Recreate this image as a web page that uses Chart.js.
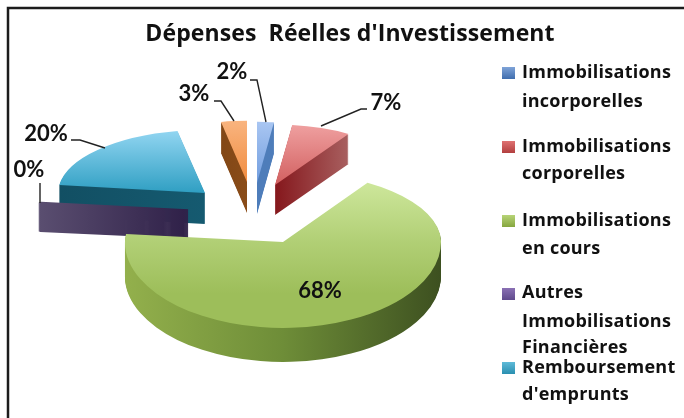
<!DOCTYPE html>
<html><head><meta charset="utf-8">
<style>html,body{margin:0;padding:0;background:#fff}#w{position:relative;width:684px;height:418px}canvas{display:block;filter:blur(0.45px)}</style>
<script src="https://cdn.jsdelivr.net/npm/chart.js@4/dist/chart.umd.min.js"></script>
</head><body><div id="w"><canvas id="c" width="684" height="418"></canvas></div>
<script>
const titleText = "Dépenses  Réelles d'Investissement";
const categories = ["Immobilisations incorporelles","Immobilisations corporelles","Immobilisations en cours","Autres Immobilisations Financières","Remboursement d'emprunts"," "];
const values = [2,7,68,0.2,20,3];

const topLight = ['#A9C6F2','#EFA0A0','#D2EBA2','#5A4E70','#93D6F2','#F9B47F'];
const topDark  = ['#6E9BDD','#D05C5C','#9DBE5A','#2F2048','#2A9CC0','#F08A3C'];
const wallA = ['#3A6AA8','#85171C','#93B04C','#5A4E70','#124F63','#5E3210'];
const wallB = ['#4E7DBA','#A85F5F','#3D5020','#2F2048','#155A70','#8A4C18'];
const legendTop = ['#7FA3D8','#DF7272','#B7D477','#8A70B4','#5FBAD8'];
const legendBot = ['#3F6DAE','#B23F3F','#86A63F','#5F4A8C','#2A8FB0'];

// explosion of each slice relative to the pie centre, and its projected size
const explodeX = [-25,-7,1,-94,-77,-35];
const explodeY = [-59,-57,0,-32,-49,-60];
const radiusK  = [0.86,0.87,1,0.94,0.93,0.88];
const tiltFar  = [0.45,0.44,0.443,0.39,0.43,0.44];
const tiltNear = [0.45,0.44,0.544,0.39,0.43,0.44];
const depth    = [31,30,34,28,31,31];

const labelPos = [[232,72],[386,103],[320,291],[29,170],[46,134],[194,94]];
const leaders = [[[250,80],[257,80],[266,122]],[[367,109],[361,109],[321,126]],null,[[40,183],[40,203]],[[71,140],[80,140],[105,148]],[[214,101],[221,101],[234,121]]];
const legendLines = [['Immobilisations','incorporelles'],['Immobilisations','corporelles'],['Immobilisations','en cours'],['Autres','Immobilisations','Financières'],['Remboursement',"d'emprunts"]];
const legendY = [73,102,147,174,221,249,293,322,348,368,395];

function gradient(ctx,x0,y0,x1,y1,a,b){const g=ctx.createLinearGradient(x0,y0,x1,y1);g.addColorStop(0,a);g.addColorStop(1,b);return g;}

function wallFill(ctx,arc,i){
  const r=arc.outerRadius;
  if(i===2){
    const g=ctx.createLinearGradient(arc.x-r,0,arc.x+r,0);
    g.addColorStop(0,'#93B04C');g.addColorStop(0.5,'#6E8D38');g.addColorStop(1,'#3D5020');
    return g;
  }
  if(i===1) return gradient(ctx,arc.x,0,arc.x+r*0.53,0,wallA[i],wallB[i]);
  if(i===3) return gradient(ctx,arc.x-r,0,arc.x,0,wallA[i],wallB[i]);
  return gradient(ctx,arc.x-r,0,arc.x,0,wallA[i],wallB[i]);
}

function drawSlice(ctx,arc,i,cx,cy){
  const r=arc.outerRadius, k=radiusK[i];
  const ax=cx+explodeX[i], ay=cy+explodeY[i];
  const base=arc.options;
  const split=tiltFar[i]!==tiltNear[i];
  const paint=(sy,part)=>{
    for(let d=depth[i];d>=0;d--){
      ctx.save();
      if(part){
        ctx.beginPath();
        if(part==='far') ctx.rect(0,0,684,ay+d); else ctx.rect(0,ay+d,684,418-ay-d);
        ctx.clip();
      }
      ctx.translate(ax,ay+d);
      ctx.scale(k,sy*k);
      ctx.translate(-arc.x,-arc.y);
      const fill=(d===0&&i!==3)
        ? gradient(ctx,0,arc.y-r,0,arc.y+r*(i===2?0.6:0.05),topLight[i],topDark[i])
        : wallFill(ctx,arc,i);
      arc.options=Object.assign({},base,{backgroundColor:fill,borderWidth:i===3?4:0,borderColor:fill});
      arc.draw(ctx);
      ctx.restore();
    }
  };
  if(split){paint(tiltFar[i],'far');paint(tiltNear[i],'near');}
  else paint(tiltFar[i],null);
  arc.options=base;
}

const pie3d={
  id:'pie3d',
  beforeDatasetDraw(chart){
    const ctx=chart.ctx, arcs=chart.getDatasetMeta(0).data;
    const cx=arcs[0].x, cy=arcs[0].y;
    [5,0,1,4,3,2].forEach(i=>drawSlice(ctx,arcs[i],i,cx,cy));
    return false;
  },
  afterDraw(chart){
    const ctx=chart.ctx;
    ctx.save();
    // frame
    ctx.strokeStyle='#1c1c1c';ctx.lineWidth=2.5;
    ctx.beginPath();ctx.moveTo(8,418);ctx.lineTo(8,8);ctx.lineTo(684,8);ctx.stroke();
    // title
    ctx.fillStyle='#111';ctx.textBaseline='middle';ctx.textAlign='center';
    ctx.font='bold 23px "Open Sans"';ctx.letterSpacing='0.1px';
    ctx.fillText(titleText,350,34);
    ctx.letterSpacing='0px';
    // leaders
    ctx.strokeStyle='#222';ctx.lineWidth=1.4;
    leaders.forEach(l=>{if(!l)return;ctx.beginPath();l.forEach((p,j)=>j?ctx.lineTo(p[0],p[1]):ctx.moveTo(p[0],p[1]));ctx.stroke();});
    // percent labels
    const total=values.reduce((a,b)=>a+b,0);
    ctx.font='bold 22px Lato';
    values.forEach((v,i)=>ctx.fillText(Math.round(v/total*100)+'%',labelPos[i][0],labelPos[i][1]));
    // legend
    ctx.textAlign='left';
    let n=0;
    legendLines.forEach((ls,i)=>{
      const y=legendY[n]+(i===3?1:0);
      ctx.fillStyle=gradient(ctx,0,y-6,0,y+6,legendTop[i],legendBot[i]);
      ctx.fillRect(502,y-6,13,12);
      ctx.fillStyle='#111';
      ctx.font='bold 18px "Open Sans"';ctx.letterSpacing='0.25px';
      ls.forEach(t=>{ctx.fillText(t,522,legendY[n]);n++;});
    });
    ctx.restore();
  }
};

new Chart(document.getElementById('c'),{
  type:'pie',
  data:{labels:categories,datasets:[{data:values,backgroundColor:topDark,borderWidth:0}]},
  plugins:[pie3d],
  options:{
    responsive:false,animation:false,rotation:0,
    layout:{padding:{left:124,right:244,top:84,bottom:18}},
    plugins:{legend:{display:false},tooltip:{enabled:false},title:{display:false}}
  }
});
</script></body></html>
